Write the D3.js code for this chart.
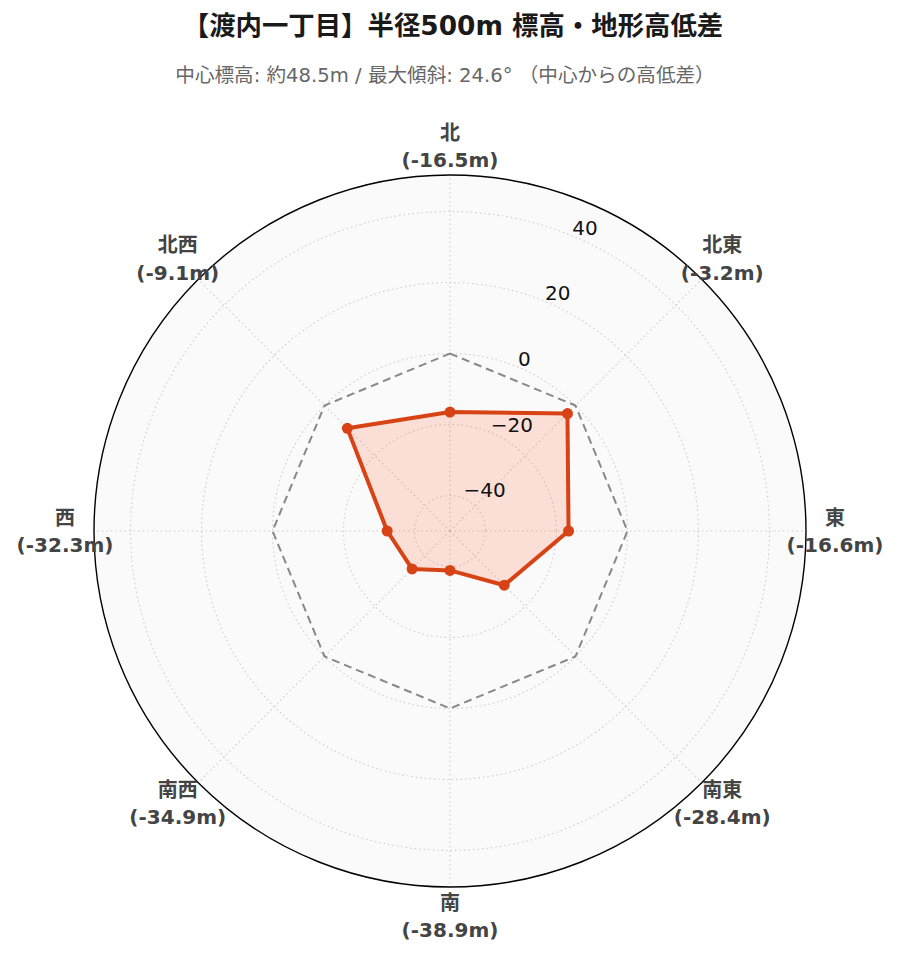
<!DOCTYPE html>
<html><head><meta charset="utf-8">
<script src="https://cdn.jsdelivr.net/npm/d3@7"></script>
<style>body{margin:0;background:#fff}</style>
</head><body>
<svg id="c" width="899" height="962"></svg>
<script>
const directions = ["北","北東","東","南東","南","南西","西","北西"];
const diffs = [-16.5, -3.2, -16.6, -28.4, -38.9, -34.9, -32.3, -9.1];
const radialTicks = [-40, -20, 0, 20, 40];
const referenceLevel = 0;
const titleText = "【渡内一丁目】半径500m 標高・地形高低差";
const subtitleText = "中心標高: 約48.5m / 最大傾斜: 24.6° （中心からの高低差）";

const svg = d3.select("#c");
const cx = 450, cy = 531, R = 356;
const FONT = "'DejaVu Sans','Noto Sans CJK JP',sans-serif";
const r = d3.scaleLinear().domain([-50, 50.3]).range([0, R]);
const ang = d3.scalePoint().domain(directions).range([0, 2*Math.PI*7/8]);
const px = (a, rr) => cx + rr*Math.sin(a);
const py = (a, rr) => cy - rr*Math.cos(a);

svg.append("text").attr("x", 453).attr("y", 35).attr("text-anchor","middle")
  .attr("font-family", FONT).attr("font-weight","bold").attr("font-size", 26.4).attr("fill","#1a1a1a").text(titleText);
svg.append("text").attr("x", 445).attr("y", 82).attr("text-anchor","middle")
  .attr("font-family", FONT).attr("font-size", 19.6).attr("fill","#666").text(subtitleText);

const g = svg.append("g");
g.append("circle").attr("cx",cx).attr("cy",cy).attr("r",R).attr("fill","#fafafa");

radialTicks.forEach(t => {
  g.append("circle").attr("cx",cx).attr("cy",cy).attr("r", r(t))
    .attr("fill","none").attr("stroke","#cccccc").attr("stroke-width",1.1).attr("stroke-dasharray","1.5,3");
});
directions.forEach(d => {
  const a = ang(d);
  g.append("line").attr("x1",cx).attr("y1",cy).attr("x2",px(a,R)).attr("y2",py(a,R))
    .attr("stroke","#cccccc").attr("stroke-width",1.1).attr("stroke-dasharray","1.5,3");
});

const line = d3.lineRadial().angle(d => ang(d.k)).radius(d => r(d.v)).curve(d3.curveLinearClosed);
g.append("path").attr("transform",`translate(${cx},${cy})`)
  .attr("d", line(directions.map(k => ({k, v: referenceLevel}))))
  .attr("fill","none").attr("stroke","#888").attr("stroke-width",2).attr("stroke-dasharray","8,5");

const pts = directions.map((k,i) => ({k, v: diffs[i]}));
g.append("path").attr("transform",`translate(${cx},${cy})`).attr("d", line(pts))
  .attr("fill","#ff5722").attr("fill-opacity",0.17).attr("stroke","#d84315").attr("stroke-width",4).attr("stroke-linejoin","round");
g.selectAll("circle.pt").data(pts).join("circle").attr("class","pt")
  .attr("cx", d => px(ang(d.k), r(d.v))).attr("cy", d => py(ang(d.k), r(d.v))).attr("r",5.5).attr("fill","#d84315");

g.append("circle").attr("cx",cx).attr("cy",cy).attr("r",R).attr("fill","none").attr("stroke","#000").attr("stroke-width",1.4);

const la = Math.PI/8;
radialTicks.forEach(t => {
  g.append("text").attr("x", px(la, r(t))).attr("y", py(la, r(t)) - 1)
    .attr("font-family", FONT).attr("font-size", 20).attr("fill","#111")
    .text(d3.format("d")(t).replace("-", "\u2212"));
});

directions.forEach((d,i) => {
  const a = ang(d);
  const x = px(a, 385), y = py(a, 385);
  const t = g.append("text").attr("text-anchor","middle").attr("font-family", FONT)
    .attr("font-weight","bold").attr("font-size",20).attr("fill","#444");
  t.append("tspan").attr("x", x).attr("y", y - 6.5).text(d);
  t.append("tspan").attr("x", x).attr("y", y + 21).text(`(${diffs[i].toFixed(1)}m)`);
});
</script>
</body></html>
